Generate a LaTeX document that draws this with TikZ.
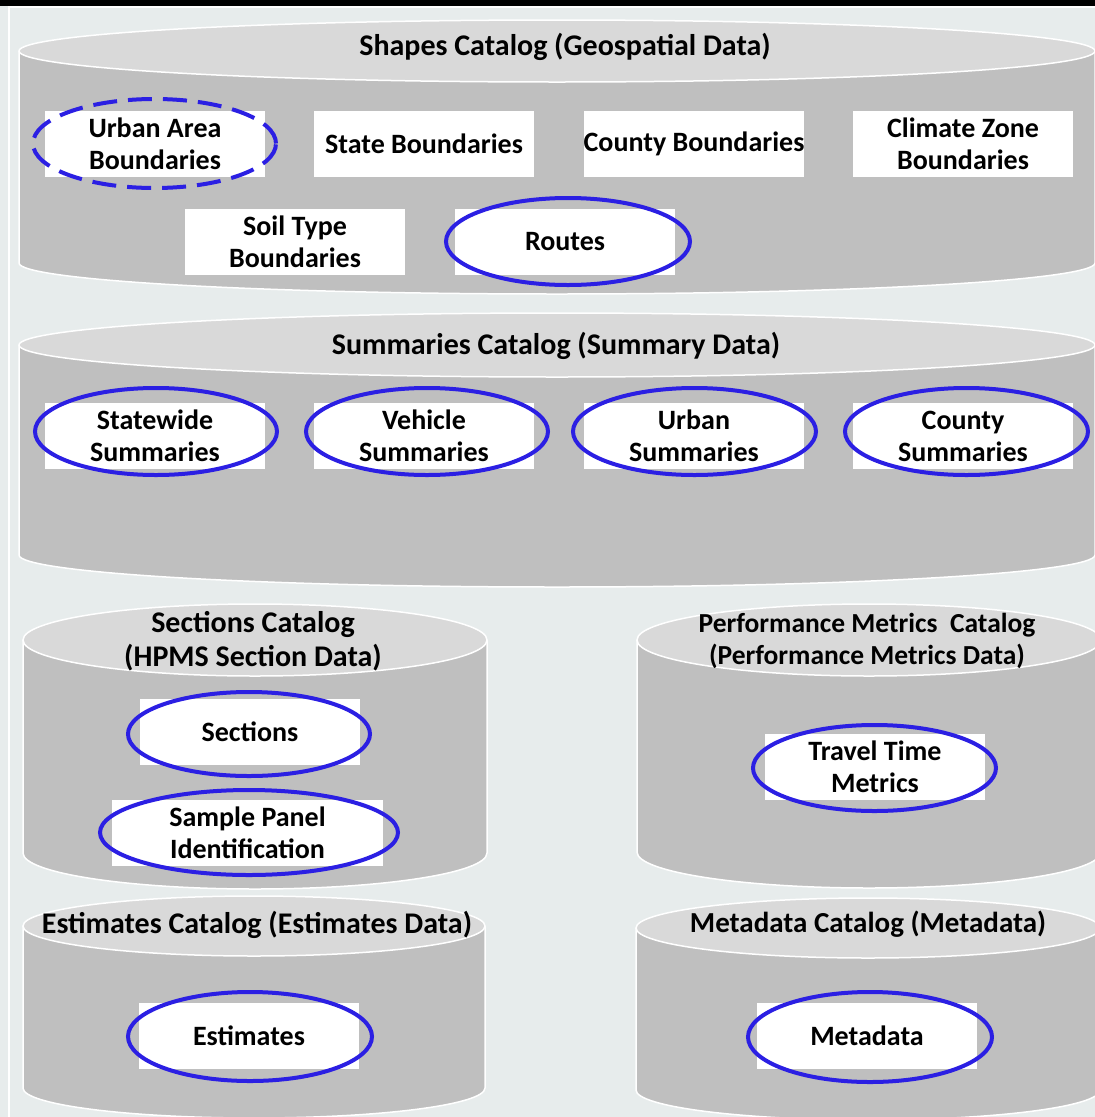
\documentclass[tikz,border=0pt]{standalone}
\usepackage{fontspec}
\setmainfont{Carlito}
\usetikzlibrary{shapes.geometric}
\definecolor{bgcol}{HTML}{E7ECEC}
\definecolor{cylbody}{HTML}{BFBFBF}
\definecolor{cyltop}{HTML}{D9D9D9}
\definecolor{ringblue}{HTML}{2B1FE3}
\newcommand{\dbcyl}[5]{%
  \path[fill=cylbody,draw=white,line width=1.5pt] ({#1-#4},{-#2}) -- ({#1-#4},{-#3})
     arc[start angle=180,end angle=360,x radius=#4,y radius=#5] -- ({#1+#4},{-#2});
  \path[fill=cyltop,draw=white,line width=1.5pt] (#1,-#2) ellipse [x radius=#4, y radius=#5];
}
\tikzset{
  itembox/.style={fill=white, minimum width=220pt, minimum height=66pt, inner sep=0pt,
    align=center, font=\fontsize{28}{32}\selectfont\bfseries, text=black},
  ring/.style={ellipse, draw=ringblue, line width=4pt, inner sep=0pt},
  ringdash/.style={ring, dash pattern=on 24pt off 11pt},
  cattitle/.style={align=center, font=\fontsize{30}{34}\selectfont\bfseries, text=black, inner sep=0pt},
  cattitlesm/.style={align=center, font=\fontsize{27.5}{32}\selectfont\bfseries, text=black, inner sep=0pt}
}
\begin{document}
\begin{tikzpicture}[x=1pt,y=1pt]
\useasboundingbox (0,0) rectangle (1095,-1117);
\begin{scope}
\clip (0,0) rectangle (1095,-1117);
\fill[bgcol] (0,0) rectangle (1095,-1117);
\fill[black] (0,0) rectangle (1095,-6);
\draw[white,line width=1.5pt] (9,-1117) -- (9,-7) -- (1100,-7);
% cylinders
\dbcyl{557}{51}{263}{538}{31}
\dbcyl{557}{345}{555}{538}{32}
\dbcyl{255}{640}{853}{232}{36}
\dbcyl{869}{640}{852}{232}{36}
\dbcyl{254}{926}{1088}{231}{30}
\dbcyl{868}{928}{1090}{232}{30}
\end{scope}
% titles
\node[cattitle] (t1) at (565,-47) {Shapes Catalog (Geospatial Data)};
\node[cattitle] (t2) at (556,-346) {Summaries Catalog (Summary Data)};
\node[cattitle] (t3) at (253,-641) {Sections Catalog\\(HPMS Section Data)};
\node[cattitlesm] (t4) at (867,-641) {Performance Metrics~~Catalog\\(Performance Metrics Data)};
\node[cattitle] (t5) at (257,-925) {Estimates Catalog (Estimates Data)};
\node[cattitle, font=\fontsize{29}{34}\selectfont\bfseries] (t6) at (868,-924) {Metadata Catalog (Metadata)};
% shapes items
\node[itembox] (ua) at (155,-144) {Urban Area\\Boundaries};
\node[itembox] (sb) at (424,-144) {State Boundaries};
\node[itembox] (cb) at (694,-144) {County Boundaries};
\node[itembox] (cz) at (963,-143.5) {Climate Zone\\Boundaries};
\node[itembox] (st) at (295,-242) {Soil Type\\Boundaries};
\node[itembox] (ro) at (565,-242) {Routes};
\node[ringdash, minimum width=243pt, minimum height=89pt] (uar) at (154.5,-143.5) {};
\node[ring, minimum width=244pt, minimum height=87pt] (ror) at (568,-241.5) {};
% summaries items
\node[itembox] (sw) at (155,-436) {Statewide\\Summaries};
\node[itembox] (vs) at (424,-436) {Vehicle\\Summaries};
\node[itembox] (us) at (694,-436) {Urban\\Summaries};
\node[itembox] (cs) at (963,-436) {County\\Summaries};
\node[ring, minimum width=242pt, minimum height=87pt] (swr) at (156,-431.5) {};
\node[ring, minimum width=242pt, minimum height=87pt] (vsr) at (427,-431.5) {};
\node[ring, minimum width=243pt, minimum height=87pt] (usr) at (694.5,-431.5) {};
\node[ring, minimum width=243pt, minimum height=87pt] (csr) at (966.5,-431.5) {};
% sections
\node[itembox] (se) at (250,-732) {Sections};
\node[ring, minimum width=242pt, minimum height=84pt] (ser) at (249,-734) {};
\node[itembox, minimum width=271pt] (sp) at (247.5,-833) {Sample Panel\\Identification};
\node[ring, minimum width=298pt, minimum height=85pt] (spr) at (249,-832.5) {};
% performance
\node[itembox] (tt) at (875,-767) {Travel Time\\Metrics};
\node[ring, minimum width=243pt, minimum height=86pt] (ttr) at (874.5,-768) {};
% estimates
\node[itembox] (es) at (249,-1035.5) {Estimates};
\node[ring, minimum width=244pt, minimum height=89pt] (esr) at (250,-1036.5) {};
% metadata
\node[itembox] (md) at (867,-1036) {Metadata};
\node[ring, minimum width=244pt, minimum height=90pt] (mdr) at (870,-1037) {};
\end{tikzpicture}
\end{document}
